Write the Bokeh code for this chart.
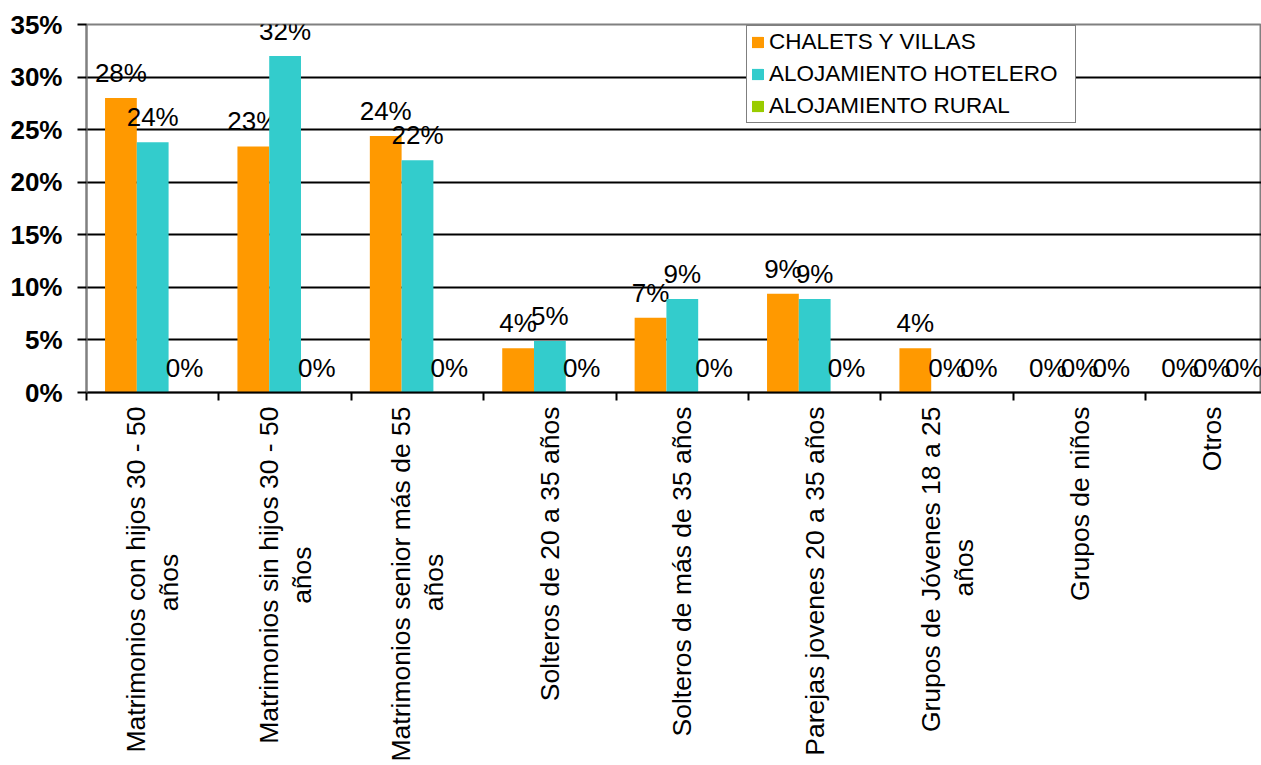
import math
from bokeh.plotting import figure
from bokeh.models import (ColumnDataSource, Range1d, FixedTicker, NumeralTickFormatter,
                          Legend, LegendItem)
from bokeh.core.properties import value
from bokeh.embed import file_html
from bokeh.resources import INLINE

# ---- data ----
categories = [
    "Matrimonios con hijos 30 - 50\naños",
    "Matrimonios sin hijos 30 - 50\naños",
    "Matrimonios senior más de 55\naños",
    "Solteros de 20 a 35 años",
    "Solteros de más de 35 años",
    "Parejas jovenes 20 a 35 años",
    "Grupos de Jóvenes 18 a 25\naños",
    "Grupos de niños",
    "Otros",
]
series_names = ["CHALETS Y VILLAS", "ALOJAMIENTO HOTELERO", "ALOJAMIENTO RURAL"]
chalets = [28.0, 23.4, 24.4, 4.2, 7.1, 9.4, 4.2, 0.0, 0.0]
hotelero = [23.8, 32.0, 22.1, 4.9, 8.9, 8.9, 0.0, 0.0, 0.0]
rural = [0.0, 0.0, 0.0, 0.0, 0.0, 0.0, 0.0, 0.0, 0.0]
y_ticks = [0.0, 0.05, 0.10, 0.15, 0.20, 0.25, 0.30, 0.35]

colors = ["#FF9900", "#33CCCC", "#99CC00"]
FONT = "Liberation Sans"
n = len(categories)
bar_w = 0.24
offsets = [-bar_w, 0.0, bar_w]

# approximate Arial advance widths (em) used only to centre the 2nd label line
_AW = {"M": .833, "a": .556, "t": .278, "r": .333, "i": .222, "m": .833, "o": .556,
       "n": .556, "s": .5, "c": .5, "h": .556, "j": .222, "-": .333, " ": .278,
       "e": .556, "á": .556, "d": .556, "G": .778, "u": .556, "p": .556, "J": .5,
       "ó": .556, "v": .5, "ñ": .556, "l": .222, "S": .667, "P": .667, "O": .778}


def _w(s):
    return sum(_AW.get(ch, .556) for ch in s)


def centre_second_line(label):
    lines = label.split("\n")
    if len(lines) != 2:
        return label
    k = int(round((_w(lines[0]) - _w(lines[1])) / 2 / 0.278))
    return lines[0] + "\n" + lines[1] + "\u00a0" * max(k, 0)


W, H = 1261, 765
LEFT, TOP, BOTTOM = 86, 24, 373
p = figure(width=W, height=H, output_backend="svg", toolbar_location=None,
           x_range=Range1d(0, (W - LEFT) / 132.4), y_range=Range1d(0, 0.35),
           min_border_left=LEFT, min_border_right=0, min_border_top=TOP,
           min_border_bottom=BOTTOM)
p.background_fill_color = "white"
p.border_fill_color = "white"
p.outline_line_color = "#808080"
p.outline_line_width = 2

legend_items = []
for vals, off, col, name in zip([chalets, hotelero, rural], offsets, colors, series_names):
    src = ColumnDataSource(dict(
        x=[i + 0.5 + off for i in range(n)],
        top=[v / 100.0 for v in vals],
        lab=[f"{round(v)}%" for v in vals],
    ))
    r = p.vbar(x="x", top="top", width=bar_w, bottom=0, source=src,
               fill_color=col, line_color=None)
    p.text(x="x", y="top", text="lab", source=src, text_align="center",
           text_baseline="alphabetic", y_offset=-25, text_font=value(FONT),
           text_font_size="26px", text_color="black")
    legend_items.append(LegendItem(label=name, renderers=[r]))

legend = Legend(items=legend_items, location=(746 - LEFT, 269), orientation="vertical",
                label_text_font=FONT, label_text_font_size="22.5px", label_text_color="black",
                glyph_width=15, glyph_height=14, label_standoff=4, label_width=303,
                label_height=22, padding=3, spacing=6, margin=0,
                border_line_color="black", border_line_width=1,
                background_fill_color="white", background_fill_alpha=1.0)
p.add_layout(legend)

# y axis
p.yaxis.ticker = FixedTicker(ticks=y_ticks)
p.yaxis.formatter = NumeralTickFormatter(format="0%")
p.yaxis.major_label_text_font = FONT
p.yaxis.major_label_text_font_style = "bold"
p.yaxis.major_label_text_font_size = "26px"
p.yaxis.major_label_text_color = "black"
p.yaxis.major_label_standoff = 15
p.yaxis.major_tick_out = 9
p.yaxis.major_tick_in = 0
p.yaxis.major_tick_line_color = "black"
p.yaxis.major_tick_line_width = 2
p.yaxis.minor_tick_line_color = None
p.yaxis.axis_line_color = "#808080"
p.yaxis.axis_line_width = 2

# x axis
centers = [i + 0.5 for i in range(n)]
bounds = [float(i) for i in range(n + 1)]
p.xaxis.ticker = FixedTicker(ticks=centers, minor_ticks=bounds)
p.xaxis.major_label_overrides = {c: centre_second_line(lab) for c, lab in zip(centers, categories)}
p.xaxis.major_label_orientation = math.pi / 2
p.xaxis.major_label_text_font = FONT
p.xaxis.major_label_text_font_size = "26.5px"
p.xaxis.major_label_text_color = "black"
p.xaxis.major_label_text_line_height = 1.1
p.xaxis.major_label_standoff = 6
p.xaxis.major_tick_line_color = None
p.xaxis.major_tick_out = 0
p.xaxis.major_tick_in = 0
p.xaxis.minor_tick_out = 8
p.xaxis.minor_tick_in = 0
p.xaxis.minor_tick_line_color = "black"
p.xaxis.minor_tick_line_width = 2
p.xaxis.axis_line_color = "black"
p.xaxis.axis_line_width = 2

# grid
p.xgrid.grid_line_color = None
p.ygrid.ticker = FixedTicker(ticks=y_ticks[1:-1])
p.ygrid.grid_line_color = "black"
p.ygrid.grid_line_width = 2

open("out.html", "w").write(file_html(p, INLINE))
